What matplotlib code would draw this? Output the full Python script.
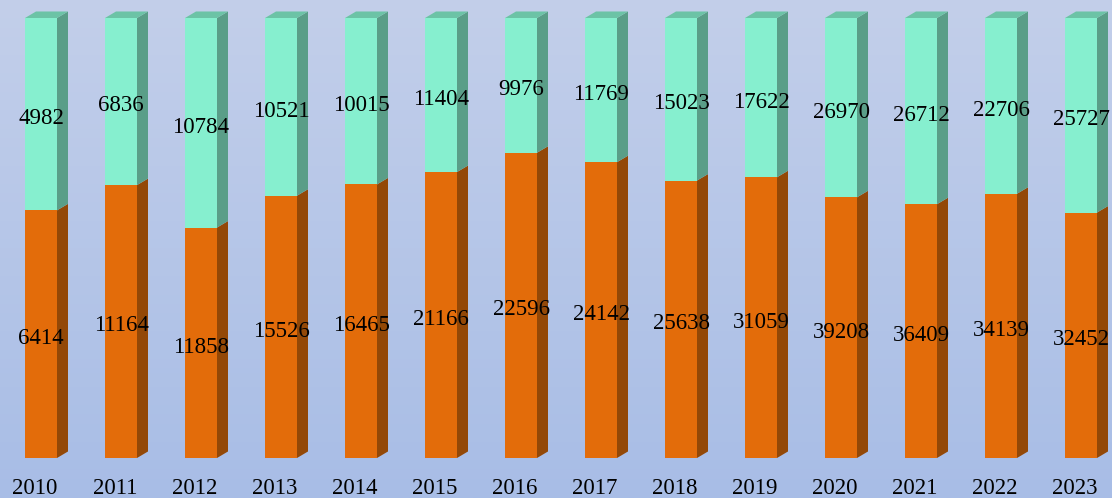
import numpy as np
import matplotlib
matplotlib.use('Agg')
from matplotlib import pyplot as plt
from matplotlib.patches import Polygon

years = ['2010', '2011', '2012', '2013', '2014', '2015', '2016',
         '2017', '2018', '2019', '2020', '2021', '2022', '2023']
orange_vals = [6414, 11164, 11858, 15526, 16465, 21166, 22596,
               24142, 25638, 31059, 39208, 36409, 34139, 32452]
green_vals = [4982, 6836, 10784, 10521, 10015, 11404, 9976,
              11769, 15023, 17622, 26970, 26712, 22706, 25727]

# style
c_or_front, c_or_side = '#E36C0A', '#934807'
c_gr_front, c_gr_side, c_gr_top = '#86EFCF', '#5A9E88', '#6CC3A6'
bar_w = 0.4
dx, dy = 0.1375, 0.0148
text_prop = {'fontsize': 16.5, 'family': 'Liberation Serif', 'color': 'black'}

fig = plt.figure(figsize=(11.12, 4.98), dpi=100)
ax = fig.add_axes([0, 0, 1, 1])
ax.set_xlim(-0.5125, 13.3875)
ax.set_ylim(-40/440, 1 + 18/440)
ax.axis('off')

# background gradient
grad = np.linspace(0, 1, 256).reshape(-1, 1)
top_c = np.array([195, 207, 234]) / 255
bot_c = np.array([168, 189, 230]) / 255
img = top_c * (1 - grad[..., None]) + bot_c * grad[..., None]
ax.imshow(img, extent=(0, 1, 0, 1), transform=ax.transAxes, aspect='auto', zorder=0)

orange = np.array(orange_vals, dtype=float)
green = np.array(green_vals, dtype=float)
frac = orange / (orange + green)
x = np.arange(len(years))

ax.bar(x, frac, width=bar_w, color=c_or_front, zorder=2)
ax.bar(x, 1 - frac, bottom=frac, width=bar_w, color=c_gr_front, zorder=2)

for i, f in enumerate(frac):
    xr = x[i] + bar_w/2
    xl = x[i] - bar_w/2
    ax.add_patch(Polygon([(xr, 0), (xr+dx, dy), (xr+dx, f+dy), (xr, f)],
                         closed=True, color=c_or_side, zorder=2, lw=0))
    ax.add_patch(Polygon([(xr, f), (xr+dx, f+dy), (xr+dx, 1+dy), (xr, 1)],
                         closed=True, color=c_gr_side, zorder=2, lw=0))
    ax.add_patch(Polygon([(xl, 1), (xr, 1), (xr+dx, 1+dy), (xl+dx, 1+dy)],
                         closed=True, color=c_gr_top, zorder=2, lw=0))
    ax.text(x[i], f/2 - 0.01, f'{orange_vals[i]}', ha='center', va='center',
            zorder=3, **text_prop)
    ax.text(x[i], (1 + f)/2 - 0.01, f'{green_vals[i]}', ha='center', va='center',
            zorder=3, **text_prop)
    ax.text(x[i] - 0.075, -0.069, years[i], ha='center', va='center',
            zorder=3, **text_prop)

fig.savefig('out.png', dpi=100)
